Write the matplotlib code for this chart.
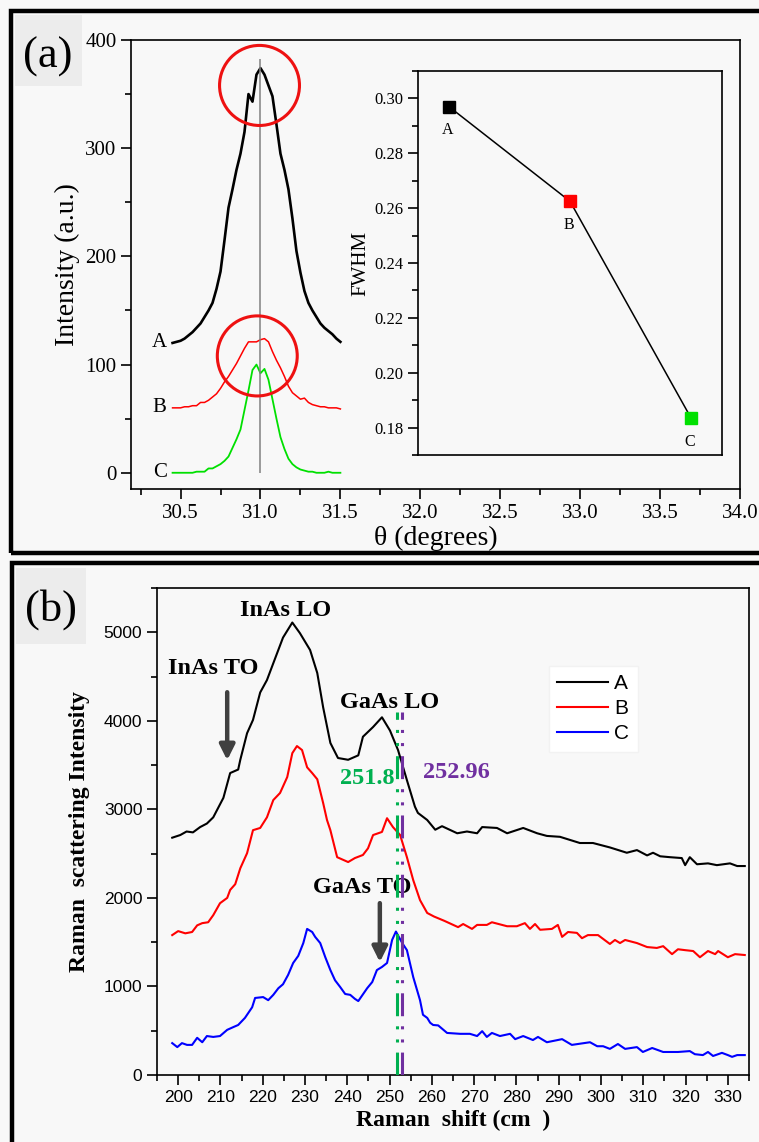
import matplotlib
matplotlib.use('Agg')
import matplotlib.pyplot as plt
from matplotlib.patches import Rectangle, Ellipse
from matplotlib.ticker import MultipleLocator, FormatStrFormatter

# ---------------- data: panel (a) XRD ----------------
theta = [30.450, 30.475, 30.500, 30.525, 30.550, 30.575, 30.600, 30.625, 30.650, 30.675,
         30.700, 30.725, 30.750, 30.775, 30.800, 30.825, 30.850, 30.875, 30.900, 30.925,
         30.950, 30.975, 31.000, 31.025, 31.050, 31.075, 31.100, 31.125, 31.150, 31.175,
         31.200, 31.225, 31.250, 31.275, 31.300, 31.325, 31.350, 31.375, 31.400, 31.425,
         31.450, 31.475, 31.500]
xrd_A = [120, 121, 122, 124, 127, 130, 134, 138, 144, 150,
         157, 170, 186, 215, 245, 262, 280, 295, 315, 350,
         343, 368, 374, 368, 358, 348, 322, 295, 280, 262,
         235, 205, 185, 168, 157, 150, 144, 138, 134, 131,
         128, 124, 121]
xrd_B = [60, 60, 60, 61, 61, 62, 62, 65, 65, 67,
         70, 73, 78, 84, 89, 95, 101, 108, 115, 121,
         121, 121, 123, 124, 121, 112, 104, 97, 89, 80,
         74, 71, 68, 69, 65, 63, 62, 61, 61, 60,
         60, 60, 59]
xrd_C = [0, 0, 0, 0, 0, 0, 1, 1, 1, 4,
         4, 6, 8, 11, 15, 23, 31, 40, 58, 76,
         95, 100, 92, 96, 86, 68, 50, 33, 22, 13,
         8, 5, 3, 2, 1, 1, 0, 0, 0, 1,
         0, 0, 0]
samples = ['A', 'B', 'C']
fwhm = [0.297, 0.2625, 0.1835]

# ---------------- data: panel (b) Raman ----------------
ramA_x = [198.6, 200.5, 202, 203.5, 205.2, 206.8, 208.3, 209.5, 210.7, 212.3, 214.2, 214.7,
          216.3, 217.7, 219.4, 221, 222.5, 224.8, 227, 228.8, 231.2, 232.9, 234.3, 236,
          237.8, 240.2, 242.6, 243.7, 246.1, 248.2, 250.1, 252, 254.1, 256, 256.7, 258.9,
          260.8, 262.4, 266, 268.3, 270.7, 271.9, 275.4, 277.8, 281.6, 284.9, 287.2, 290.3,
          295, 298.1, 302.1, 306.1, 308.5, 310.9, 312.3, 314, 316.3, 319.1, 319.9, 321,
          322.7, 325.3, 327.4, 330.5, 332.2, 334]
ramA_y = [2680, 2710, 2750, 2740, 2800, 2840, 2910, 3020, 3130, 3410, 3450, 3560,
          3860, 4010, 4320, 4460, 4650, 4940, 5110, 4990, 4800, 4540, 4150, 3750,
          3580, 3560, 3610, 3820, 3930, 4040, 3890, 3670, 3330, 3030, 2960, 2880,
          2770, 2810, 2730, 2750, 2730, 2800, 2790, 2730, 2790, 2730, 2700, 2690,
          2620, 2620, 2570, 2510, 2540, 2480, 2510, 2470, 2460, 2450, 2370, 2460,
          2380, 2390, 2370, 2390, 2360, 2360]

ramB_x = [198.6, 200, 201.7, 203.3, 204.5, 205.7, 207.1, 208.3, 209.9, 211.6, 212.3, 213.5,
          214.7, 216.3, 217.7, 219.4, 221, 222.5, 224.1, 225.8, 227, 228.1, 229.3, 230.5,
          231.7, 232.9, 234.3, 235.2, 236, 237.6, 240.2, 241.8, 243.7, 244.9, 246.1, 248.2,
          249.4, 250.8, 252.5, 254.1, 255.6, 257.2, 258.9, 260.5, 263, 266.2, 267.4, 269.5,
          270.7, 273, 274.2, 277.8, 280.1, 282, 283.2, 284.4, 285.6, 288.4, 289.8, 290.8,
          292.2, 294.3, 295.5, 296.9, 299.3, 302.1, 303.3, 304.5, 305.7, 308.5, 310.9, 313.2,
          314.7, 316.8, 318.2, 319.9, 321.8, 323.4, 325.3, 327, 327.7, 330, 331.7, 334]
ramB_y = [1580, 1625, 1600, 1615, 1690, 1715, 1725, 1805, 1940, 2000, 2090, 2155,
          2335, 2505, 2765, 2790, 2910, 3105, 3185, 3365, 3635, 3715, 3670, 3475,
          3410, 3340, 3070, 2880, 2765, 2460, 2405, 2450, 2485, 2560, 2710, 2745,
          2900, 2800, 2710, 2460, 2200, 1975, 1830, 1790, 1740, 1670, 1705, 1650,
          1695, 1695, 1725, 1680, 1680, 1715, 1650, 1705, 1640, 1650, 1695, 1560,
          1615, 1605, 1545, 1580, 1580, 1480, 1525, 1490, 1525, 1490, 1445, 1435,
          1455, 1365, 1420, 1410, 1400, 1330, 1400, 1365, 1400, 1330, 1365, 1355]

ramC_x = [198.6, 199.8, 200.9, 202.1, 203.3, 204.5, 205.7, 206.8, 208.3, 209.9, 211.6, 213,
          214.2, 215.8, 217.5, 218.2, 220.1, 221.3, 222.5, 223.7, 224.8, 226, 227.2, 228.4,
          229.6, 230.5, 231.7, 232.4, 233.6, 234.8, 236, 237.1, 238.3, 239.5, 240.7, 241.8,
          242.6, 244.7, 245.9, 247, 248.2, 249.4, 250.6, 251.5, 253, 254.1, 255.6, 257.2,
          257.9, 258.9, 259.6, 260.3, 261.5, 263.6, 266.7, 269, 270.7, 271.9, 273, 274.2,
          276.1, 278.5, 279.7, 281.6, 283.9, 285.1, 287.2, 290.8, 293.1, 297.4, 299.1, 300.5,
          302.1, 304, 305.7, 308.5, 309.9, 312.1, 314.7, 318.2, 321, 322.2, 324.1, 325.3,
          326.5, 328.6, 330, 331, 332.2, 334]
ramC_y = [360, 315, 360, 340, 340, 420, 370, 440, 430, 440, 510, 540,
          565, 645, 765, 870, 880, 845, 905, 980, 1025, 1130, 1265, 1345,
          1490, 1650, 1615, 1560, 1490, 1330, 1185, 1070, 995, 915, 905, 860,
          835, 980, 1050, 1185, 1220, 1265, 1525, 1620, 1490, 1410, 1105, 845,
          680, 645, 590, 565, 560, 475, 465, 465, 440, 495, 430, 475,
          440, 465, 405, 440, 395, 430, 370, 405, 340, 370, 325, 325,
          295, 350, 295, 315, 260, 305, 260, 260, 270, 235, 225, 260,
          215, 250, 225, 205, 225, 225]

peak_green = 251.8
peak_purple = 252.96

# ---------------- styling ----------------
BG = '#f8f8f8'
SERIF = ['Liberation Serif', 'DejaVu Serif']
SANS = ['Liberation Sans', 'DejaVu Sans']
W, H = 759, 1142


def fx(p):
    return p / W


def fy(p):
    return 1 - p / H


fig = plt.figure(figsize=(W / 100, H / 100), dpi=100, facecolor=BG)

# panel borders
fig.patches.append(Rectangle((fx(11), fy(553)), 1.2, (553 - 11) / H, transform=fig.transFigure,
                             fill=False, edgecolor='black', lw=3.2, zorder=0))
fig.patches.append(Rectangle((fx(12), fy(1200)), 1.2, (1200 - 563) / H, transform=fig.transFigure,
                             fill=False, edgecolor='black', lw=3.2, zorder=0))
# label boxes
fig.patches.append(Rectangle((fx(15), fy(86)), (82 - 15) / W, (86 - 15) / H, transform=fig.transFigure,
                             facecolor='#ececec', edgecolor='none', zorder=0))
fig.patches.append(Rectangle((fx(16), fy(644)), (86 - 16) / W, (644 - 568) / H, transform=fig.transFigure,
                             facecolor='#ececec', edgecolor='none', zorder=0))
fig.text(fx(47.5), fy(57), '(a)', ha='center', va='center', fontsize=32, family=SERIF)
fig.text(fx(51), fy(610), '(b)', ha='center', va='center', fontsize=32, family=SERIF)


def style_axes(ax, lw=1.2):
    for s in ax.spines.values():
        s.set_linewidth(lw)
    ax.tick_params(which='major', direction='out', length=7, width=1.2)
    ax.tick_params(which='minor', direction='out', length=4, width=1.2)
    ax.tick_params(top=False, right=False, which='both')


# ---------------- panel (a) main ----------------
axA = fig.add_axes([131 / W, fy(489), (740 - 131) / W, (489 - 40) / H])
axA.set_facecolor(BG)
style_axes(axA)
axA.plot(theta, xrd_A, color='black', lw=1.9, zorder=3)
axA.plot(theta, xrd_B, color='#ff0000', lw=1.1, zorder=3)
axA.plot(theta, xrd_C, color='#00e000', lw=1.3, zorder=3)
axA.vlines(31.0, 0, 382, color='#808080', lw=1.1, zorder=4)
axA.add_patch(Ellipse((30.994, 358), 0.5, 74, fill=False, edgecolor='#ee1111', lw=2.2, zorder=5))
axA.add_patch(Ellipse((30.98, 108), 0.5, 74, fill=False, edgecolor='#ee1111', lw=2.2, zorder=5))
for lab, yv in zip(samples, [xrd_A[0], xrd_B[0], xrd_C[0]]):
    axA.text(30.37, yv, lab, ha='center', va='center', fontsize=15, family=SERIF)
axA.set_xlim(30.19, 34.0)
axA.set_ylim(-15, 400)
axA.xaxis.set_major_locator(MultipleLocator(0.5))
axA.xaxis.set_minor_locator(MultipleLocator(0.25))
axA.xaxis.set_major_formatter(FormatStrFormatter('%.1f'))
axA.yaxis.set_major_locator(MultipleLocator(100))
axA.yaxis.set_minor_locator(MultipleLocator(50))
for t in axA.get_xticklabels() + axA.get_yticklabels():
    t.set_fontfamily(SERIF)
    t.set_fontsize(15)
axA.set_xlabel('θ (degrees)', fontsize=20, family=SERIF, labelpad=2)
axA.set_ylabel('Intensity (a.u.)', fontsize=20, family=SERIF, labelpad=4)

# ---------------- panel (a) inset ----------------
axI = fig.add_axes([418 / W, fy(455), (722 - 418) / W, (455 - 71) / H], zorder=5)
axI.set_facecolor(BG)
style_axes(axI)
xi = [1, 2, 3]
axI.plot(xi, fwhm, color='black', lw=1.1, zorder=2)
for x, y, c, lab in zip(xi, fwhm, ['black', '#ff0000', '#00e000'], samples):
    axI.plot([x], [y], marker='s', ms=9, color=c, mec=c, zorder=3, ls='none')
    axI.annotate(lab, (x, y), xytext=(-1, -17), textcoords='offset points',
                 ha='center', va='center', fontsize=11.5, family=SERIF)
axI.set_xlim(0.744, 3.256)
axI.set_ylim(0.17, 0.31)
axI.set_xticks([])
axI.yaxis.set_major_locator(MultipleLocator(0.02))
axI.yaxis.set_minor_locator(MultipleLocator(0.01))
axI.yaxis.set_major_formatter(FormatStrFormatter('%.2f'))
for t in axI.get_yticklabels():
    t.set_fontfamily(SERIF)
    t.set_fontsize(12)
axI.set_ylabel('FWHM', fontsize=15, family=SERIF, labelpad=3)

# ---------------- panel (b) ----------------
axB = fig.add_axes([157 / W, fy(1075), (749 - 157) / W, (1075 - 588) / H])
axB.set_facecolor(BG)
style_axes(axB)
axB.plot(ramA_x, ramA_y, color='black', lw=1.5, label='A', zorder=3)
axB.plot(ramB_x, ramB_y, color='#ff0000', lw=1.5, label='B', zorder=3)
axB.plot(ramC_x, ramC_y, color='#0000ff', lw=1.5, label='C', zorder=3)
dd = (0, (7.5, 3.3, 1, 3.3, 1, 3.3))
axB.plot([peak_green, peak_green], [0, 4100], color='#00b050', lw=2.2, ls=dd, zorder=4)
axB.plot([peak_purple, peak_purple], [0, 4100], color='#7030a0', lw=2.2, ls=dd, zorder=4)

ann = dict(fontsize=17.5, family=SERIF, fontweight='bold', ha='center', va='center')
axB.text(225.3, 5248, 'InAs LO', **ann)
axB.text(208.2, 4594, 'InAs TO', **ann)
axB.text(250.1, 4210, 'GaAs LO', **ann)
axB.text(243.5, 2122, 'GaAs TO', **ann)
axB.text(244.8, 3352, f'{peak_green}', color='#00b050', **ann)
axB.text(265.8, 3420, f'{peak_purple}', color='#7030a0', **ann)
arr = dict(arrowstyle='-|>,head_length=0.9,head_width=0.45', color='#404040', lw=3.2,
           shrinkA=0, shrinkB=0)
axB.annotate('', xy=(211.6, 3555), xytext=(211.6, 4323), arrowprops=arr, zorder=5)
axB.annotate('', xy=(247.7, 1275), xytext=(247.7, 1941), arrowprops=arr, zorder=5)

leg = axB.legend(loc='upper left', bbox_to_anchor=(0.644, 0.862), prop={'family': SANS, 'size': 15},
                 frameon=True, fancybox=False, facecolor='white', edgecolor='#f2f2f2', framealpha=1,
                 handlelength=2.45, handletextpad=0.3, labelspacing=0.3, borderpad=0.4)
axB.set_xlim(195, 335)
axB.set_ylim(0, 5500)
axB.xaxis.set_major_locator(MultipleLocator(10))
axB.xaxis.set_minor_locator(MultipleLocator(5))
axB.yaxis.set_major_locator(MultipleLocator(1000))
axB.yaxis.set_minor_locator(MultipleLocator(500))
for t in axB.get_xticklabels() + axB.get_yticklabels():
    t.set_fontfamily(SANS)
    t.set_fontsize(12.5)
axB.set_xlabel('Raman  shift (cm  )', fontsize=17, family=SERIF, fontweight='bold', labelpad=4)
axB.set_ylabel('Raman  scattering Intensity', fontsize=17, family=SERIF, fontweight='bold', labelpad=10)

fig.savefig('out.png', dpi=100, facecolor=BG)
